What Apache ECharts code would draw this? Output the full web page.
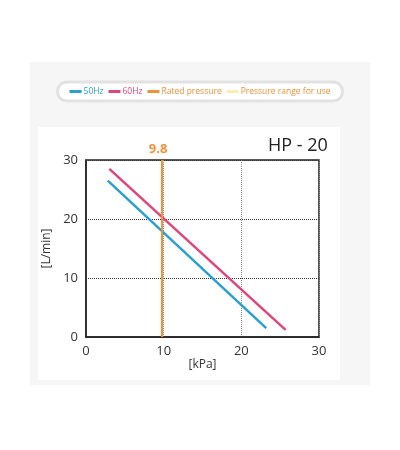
<!DOCTYPE html>
<html><head><meta charset="utf-8">
<script src="https://cdn.jsdelivr.net/npm/echarts@6/dist/echarts.min.js"></script>
<style>html,body{margin:0;background:#fff}#c{width:400px;height:450px}</style>
</head><body><div id="c"></div>
<script>
var hz50 = [[2.8, 26.5], [23.2, 1.5]];
var hz60 = [[3.0, 28.5], [25.7, 1.2]];
var ratedPressure = 9.8;
var xTicks = [0, 10, 20, 30];
var yTicks = [0, 10, 20, 30];

var myChart = echarts.init(document.getElementById('c'));
var font = 'Open Sans';
var option = {
    backgroundColor: '#fff',
    textStyle: { fontFamily: font },
    graphic: [
        { type: 'rect', z: -10, shape: { x: 30, y: 62, width: 340, height: 323 }, style: { fill: '#f6f6f6' } },
        { type: 'rect', z: -9, shape: { x: 38, y: 127, width: 302, height: 253 }, style: { fill: '#fff' } },
        { type: 'text', left: 268, top: 137, style: { text: 'HP - 20', fontSize: 18, fill: '#222', fontFamily: font } }
    ],
    legend: {
        top: 82, left: 'center',
        padding: [5, 12, 5, 12],
        backgroundColor: '#fff',
        borderColor: '#e2e2e2', borderWidth: 3, borderRadius: 12,
        icon: 'rect',
        itemWidth: 12, itemHeight: 3, itemGap: 5,
        textStyle: { fontSize: 8.5, fontFamily: font, padding: [0, 0, 0, -3] },
        data: [
            { name: '50Hz', textStyle: { color: '#2a9fd3' } },
            { name: '60Hz', textStyle: { color: '#e0457a' } },
            { name: 'Rated pressure', textStyle: { color: '#f0923a' } },
            { name: 'Pressure range for use', textStyle: { color: '#f0923a' } }
        ]
    },
    grid: { left: 86, right: 81, top: 160, bottom: 113, show: true, borderColor: '#222', borderWidth: 1.5 },
    xAxis: {
        type: 'value', min: 0, max: 30, interval: 10,
        name: '[kPa]', nameLocation: 'middle', nameGap: 20,
        nameTextStyle: { fontSize: 12, color: '#333' },
        axisLine: { show: true, lineStyle: { color: '#222', width: 1.5 } },
        axisTick: { show: false },
        axisLabel: { fontSize: 13, color: '#333', customValues: xTicks },
        splitLine: { show: true, lineStyle: { type: 'dotted', color: '#888' } }
    },
    yAxis: {
        type: 'value', min: 0, max: 30, interval: 10,
        name: '[L/min]', nameLocation: 'middle', nameGap: 32,
        nameTextStyle: { fontSize: 12, color: '#333' },
        axisLine: { show: true, lineStyle: { color: '#222', width: 1.5 } },
        axisTick: { show: false },
        axisLabel: { fontSize: 13, color: '#333', customValues: yTicks },
        splitLine: { show: true, lineStyle: { type: 'dotted', color: '#333' } }
    },
    series: [
        { name: '50Hz', type: 'line', data: hz50, symbol: 'none', lineStyle: { color: '#2a9fd3', width: 2.5 }, itemStyle: { color: '#2a9fd3' } },
        { name: '60Hz', type: 'line', data: hz60, symbol: 'none', lineStyle: { color: '#e0457a', width: 2.5 }, itemStyle: { color: '#e0457a' } },
        {
            name: 'Rated pressure', type: 'line', data: [], symbol: 'none', itemStyle: { color: '#f0923a' }, lineStyle: { color: '#f0923a' },
            markLine: {
                symbol: 'none', silent: true,
                lineStyle: { color: '#f0923a', type: 'solid', width: 2 },
                label: { position: 'end', formatter: String(ratedPressure), color: '#f0923a', fontSize: 13, fontWeight: 'bold', distance: 4, offset: [-4, 0] },
                data: [{ xAxis: ratedPressure }]
            }
        },
        { name: 'Pressure range for use', type: 'line', data: [], symbol: 'none', itemStyle: { color: '#fbeeb5' }, lineStyle: { color: '#fbeeb5', width: 5 } }
    ]
};
myChart.setOption(option);
</script></body></html>
